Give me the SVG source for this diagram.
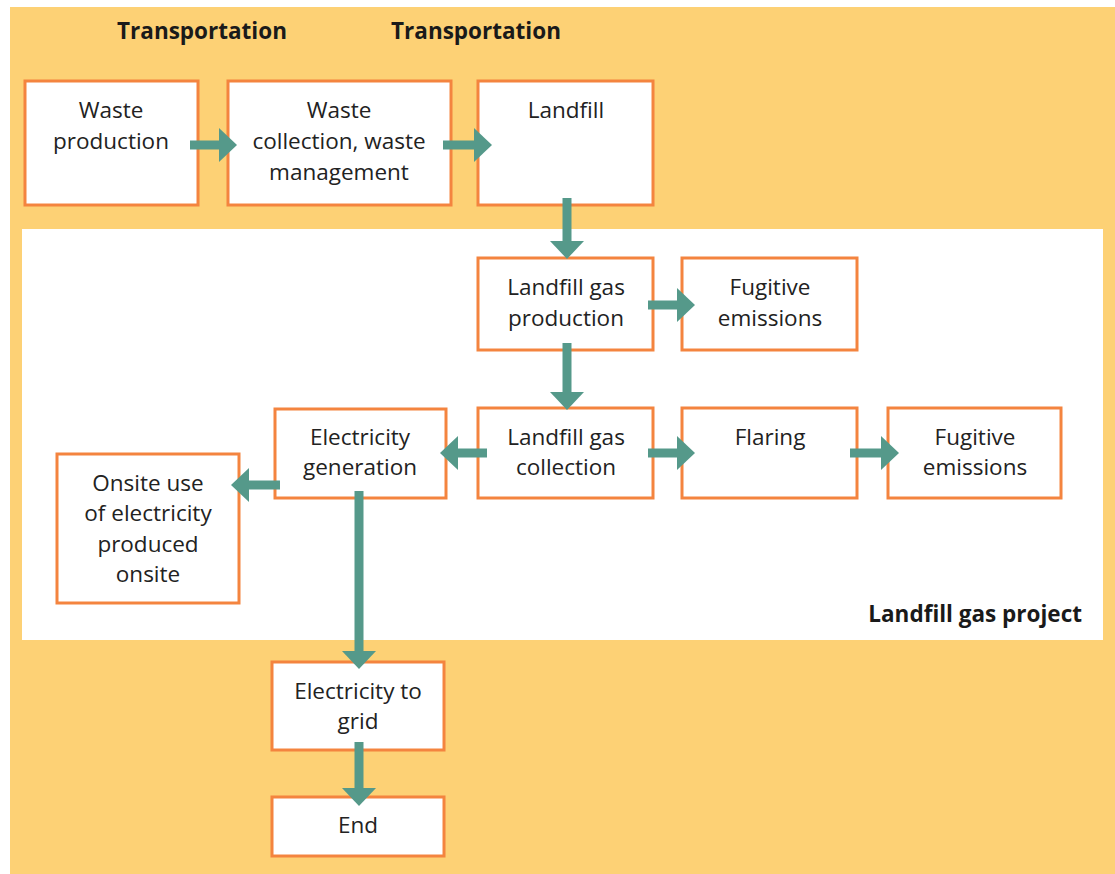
<svg xmlns="http://www.w3.org/2000/svg" width="1115" height="874" viewBox="0 0 1115 874">
<defs>
<style>
.box{fill:#fff;stroke:#F4843F;stroke-width:3}
.t{font-family:"Open Sans","Noto Sans",sans-serif;font-size:22.5px;fill:#222;text-anchor:middle}
.b{font-family:"Open Sans","Noto Sans",sans-serif;font-size:22.5px;font-weight:bold;fill:#1a1a1a}
.sh{stroke:#55998A;stroke-width:9;fill:none}
.hd{fill:#55998A}
</style>
</defs>
<rect x="0" y="0" width="1115" height="874" fill="#fff"/>
<rect x="10" y="7" width="1105" height="867" fill="#FDD175"/>
<rect x="22" y="229" width="1081" height="411" fill="#fff"/>
<text class="b" x="202" y="39" text-anchor="middle">Transportation</text>
<text class="b" x="476" y="39" text-anchor="middle">Transportation</text>
<text class="b" x="1082" y="622" text-anchor="end">Landfill gas project</text>

<g id="waste-production"><rect class="box" x="25" y="81" width="173" height="124"/><text class="t" x="111" y="118">Waste</text><text class="t" x="111" y="149">production</text></g>
<g id="waste-collection"><rect class="box" x="228" y="81" width="223" height="124"/><text class="t" x="339" y="118">Waste</text><text class="t" x="339" y="149">collection, waste</text><text class="t" x="339" y="180">management</text></g>
<g id="landfill"><rect class="box" x="478" y="81" width="175" height="124"/><text class="t" x="566" y="118">Landfill</text></g>
<g id="lfg-production"><rect class="box" x="478" y="258" width="175" height="92"/><text class="t" x="566" y="295">Landfill gas</text><text class="t" x="566" y="326">production</text></g>
<g id="fugitive-1"><rect class="box" x="682" y="258" width="175" height="92"/><text class="t" x="770" y="295">Fugitive</text><text class="t" x="770" y="326">emissions</text></g>
<g id="lfg-collection"><rect class="box" x="478" y="408" width="175" height="90"/><text class="t" x="566" y="445">Landfill gas</text><text class="t" x="566" y="475">collection</text></g>
<g id="flaring"><rect class="box" x="682" y="408" width="175" height="90"/><text class="t" x="770" y="445">Flaring</text></g>
<g id="fugitive-2"><rect class="box" x="888" y="408" width="173" height="90"/><text class="t" x="975" y="445">Fugitive</text><text class="t" x="975" y="475">emissions</text></g>
<g id="electricity-generation"><rect class="box" x="275" y="409" width="171" height="89"/><text class="t" x="360" y="445">Electricity</text><text class="t" x="360" y="475">generation</text></g>
<g id="onsite-use"><rect class="box" x="57" y="454" width="182" height="149"/><text class="t" x="148" y="491">Onsite use</text><text class="t" x="148" y="521">of electricity</text><text class="t" x="148" y="552">produced</text><text class="t" x="148" y="582">onsite</text></g>
<g id="electricity-grid"><rect class="box" x="272" y="662" width="172" height="88"/><text class="t" x="358" y="699">Electricity to</text><text class="t" x="358" y="729">grid</text></g>
<g id="end"><rect class="box" x="272" y="797" width="172" height="59"/><text class="t" x="358" y="833">End</text></g>

<g id="connectors">
<path class="sh" d="M190 145H220"/><path class="hd" d="M219 128L237 145L219 162Z"/>
<path class="sh" d="M443 145H475"/><path class="hd" d="M474 128L492 145L474 162Z"/>
<path class="sh" d="M567 198V242"/><path class="hd" d="M550 241L567 259L584 241Z"/>
<path class="sh" d="M648 305H678"/><path class="hd" d="M677 288L695 305L677 322Z"/>
<path class="sh" d="M567 343V393"/><path class="hd" d="M550 392L567 410L584 392Z"/>
<path class="sh" d="M487 453H457"/><path class="hd" d="M458 436L440 453L458 470Z"/>
<path class="sh" d="M648 453H678"/><path class="hd" d="M677 436L695 453L677 470Z"/>
<path class="sh" d="M850 453H882"/><path class="hd" d="M881 436L899 453L881 470Z"/>
<path class="sh" d="M280 485H248"/><path class="hd" d="M249 468L231 485L249 502Z"/>
<path class="sh" d="M359 491V652"/><path class="hd" d="M342 651L359 669L376 651Z"/>
<path class="sh" d="M359 742V789"/><path class="hd" d="M342 788L359 806L376 788Z"/>
</g>
</svg>
